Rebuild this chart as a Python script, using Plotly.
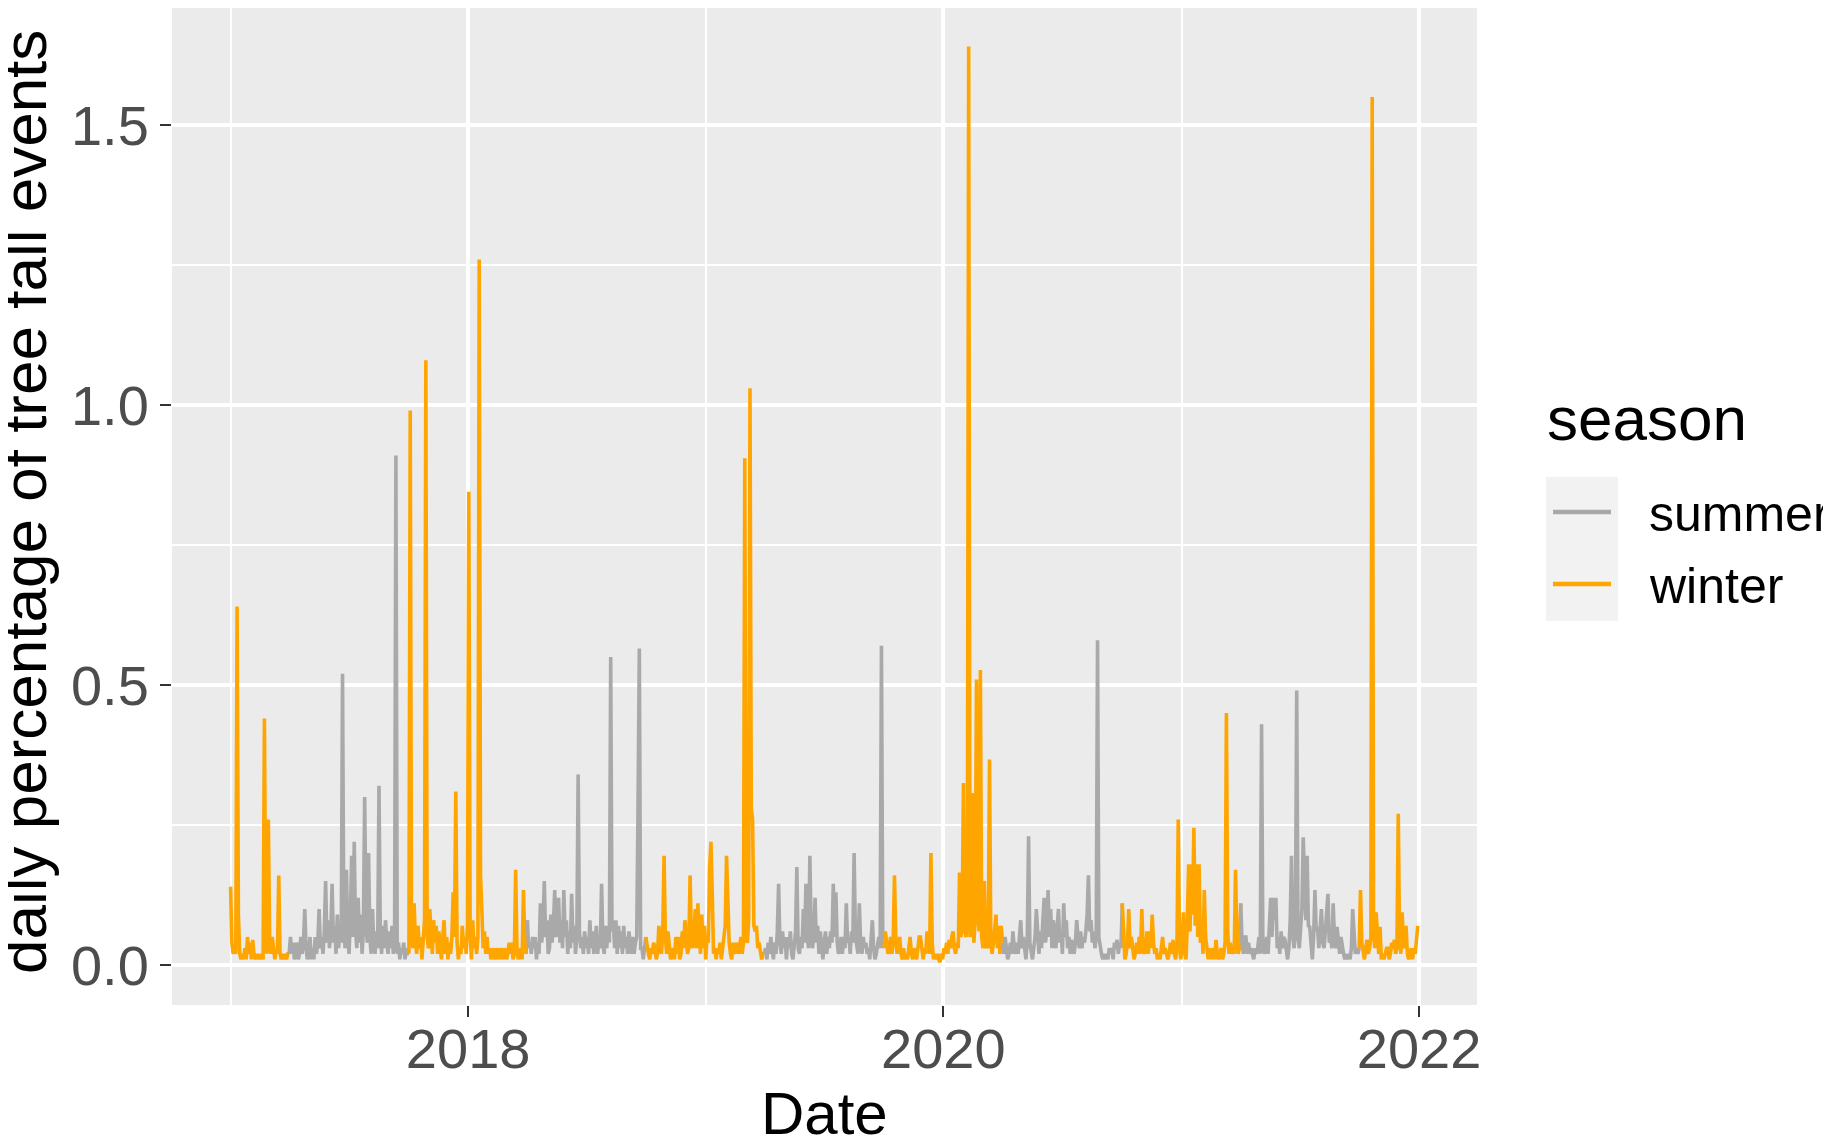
import pandas as pd
import plotly.graph_objects as go

# ---- data: daily share of tree fall events, read every second day ----
# each season block: first sample date, then values every 2 days
W2017A_START = "2017-01-01"
W2017A = [0.14,0.04,0.02,0.03,0.02,0.64,0.09,0.02,0.01,0.02,
          0.01,0.03,0.01,0.05,0.02,0.04,0.01,0.045,0.02,0.01,
          0.02,0.01,0.02,0.01,0.02,0.01,0.44,0.04,0.02,0.26,
          0.05,0.02,0.05,0.02,0.01,0.03,0.02,0.16,0.02,0.01,
          0.02,0.01,0.02,0.01,0.02]

S2017_START = "2017-04-01"
S2017 = [0.02,0.05,0.02,0.04,0.01,0.03,0.04,0.01,0.02,0.05,
         0.02,0.04,0.10,0.03,0.01,0.02,0.05,0.01,0.03,0.01,
         0.05,0.02,0.04,0.10,0.03,0.05,0.02,0.06,0.15,0.04,
         0.08,0.03,0.06,0.145,0.04,0.07,0.02,0.09,0.03,0.06,
         0.04,0.52,0.06,0.03,0.17,0.05,0.02,0.08,0.195,0.05,
         0.22,0.06,0.03,0.12,0.04,0.09,0.02,0.06,0.30,0.08,
         0.04,0.20,0.05,0.02,0.10,0.04,0.02,0.06,0.03,0.32,
         0.06,0.02,0.07,0.03,0.08,0.04,0.02,0.06,0.03,0.07,
         0.02,0.05,0.91,0.02,0.04,0.01,0.03,0.02,0.04,0.01,
         0.03,0.02]

W2017B_START = "2017-10-02"
W2017B = [0.02,0.99,0.06,0.03,0.11,0.04,0.02,0.07,0.03,0.05,
          0.01,0.04,0.08,1.08,0.05,0.03,0.10,0.06,0.02,0.08,
          0.04,0.07,0.02,0.06,0.03,0.01,0.05,0.08,0.02,0.05,
          0.01,0.04,0.02,0.05,0.13,0.05,0.31,0.04,0.01,0.03,
          0.02,0.07,0.03,0.05,0.02,0.07,0.845,0.06,0.01,0.08,
          0.03,0.05,0.02,0.05,1.26,0.16,0.10,0.03,0.06,0.02,
          0.05,0.02,0.03,0.01,0.02,0.03,0.01,0.02,0.03,0.01,
          0.02,0.03,0.01,0.02,0.03,0.01,0.02,0.04,0.02,0.04,
          0.01,0.02,0.17,0.03,0.01,0.02,0.03,0.01,0.134,0.04,
          0.02]

S2018_START = "2018-04-02"
S2018 = [0.08,0.03,0.04,0.02,0.05,0.03,0.05,0.01,0.04,0.02,
         0.11,0.04,0.07,0.15,0.05,0.08,0.02,0.03,0.09,0.04,
         0.07,0.134,0.05,0.09,0.12,0.04,0.08,0.03,0.134,0.05,
         0.08,0.02,0.06,0.03,0.127,0.04,0.07,0.02,0.05,0.34,
         0.06,0.03,0.05,0.02,0.06,0.03,0.05,0.02,0.08,0.03,
         0.06,0.02,0.04,0.07,0.02,0.05,0.03,0.145,0.04,0.02,
         0.07,0.03,0.07,0.04,0.55,0.06,0.08,0.03,0.08,0.02,
         0.07,0.03,0.06,0.02,0.07,0.03,0.05,0.02,0.06,0.03,
         0.02,0.05,0.02,0.04,0.05,0.28,0.565,0.03,0.03,0.01,
         0.03]

W2018_START = "2018-10-01"
W2018 = [0.05,0.03,0.02,0.01,0.03,0.02,0.04,0.03,0.01,0.02,
         0.07,0.04,0.02,0.06,0.195,0.05,0.02,0.06,0.03,0.01,
         0.02,0.03,0.01,0.05,0.02,0.05,0.01,0.02,0.06,0.03,
         0.08,0.04,0.02,0.03,0.16,0.04,0.03,0.06,0.10,0.03,
         0.11,0.05,0.02,0.09,0.03,0.07,0.01,0.05,0.04,0.17,
         0.22,0.13,0.02,0.03,0.01,0.03,0.02,0.04,0.01,0.03,
         0.05,0.07,0.195,0.11,0.04,0.02,0.01,0.04,0.02,0.03,
         0.04,0.02,0.03,0.05,0.02,0.04,0.905,0.05,0.04,0.08,
         1.03,0.28,0.26,0.07,0.06,0.07,0.03,0.04,0.02,0.01,
         0.02]

S2019_START = "2019-04-01"
S2019 = [0.02,0.03,0.01,0.04,0.02,0.05,0.03,0.01,0.04,0.02,
         0.06,0.145,0.04,0.02,0.06,0.03,0.05,0.01,0.05,0.03,
         0.06,0.02,0.01,0.04,0.06,0.175,0.03,0.02,0.05,0.03,
         0.10,0.04,0.145,0.05,0.03,0.195,0.06,0.03,0.05,0.12,
         0.04,0.07,0.02,0.06,0.03,0.01,0.04,0.06,0.02,0.05,
         0.03,0.06,0.04,0.145,0.05,0.13,0.04,0.02,0.03,0.05,
         0.02,0.05,0.03,0.11,0.04,0.05,0.02,0.06,0.04,0.20,
         0.05,0.03,0.02,0.11,0.04,0.02,0.05,0.03,0.04,0.02,
         0.03,0.01,0.04,0.08,0.03,0.01,0.02,0.04,0.05,0.03,
         0.57,0.04]

W2019_START = "2019-10-02"
W2019 = [0.03,0.06,0.04,0.02,0.03,0.05,0.02,0.04,0.16,0.05,
         0.02,0.04,0.05,0.02,0.01,0.03,0.01,0.02,0.01,0.03,
         0.05,0.02,0.01,0.03,0.02,0.01,0.03,0.05,0.05,0.02,
         0.01,0.03,0.02,0.06,0.04,0.02,0.20,0.04,0.01,0.02,
         0.01,0.02,0.01,0.005,0.02,0.01,0.03,0.02,0.04,0.02,
         0.045,0.03,0.05,0.06,0.03,0.02,0.04,
         0.03,0.165,0.05,0.07,0.325,0.06,0.05,0.10,1.64,0.05,
         0.07,0.307,0.04,0.08,0.51,0.10,0.06,0.527,0.05,0.03,
         0.15,0.03,0.04,0.03,0.367,0.05,0.02,0.04,0.06,0.09,
         0.03,0.07,0.02,0.07]

S2020_START = "2020-04-01"
S2020 = [0.04,0.02,0.05,0.03,0.01,0.02,0.04,0.02,0.06,0.03,
         0.02,0.04,0.02,0.05,0.08,0.03,0.05,0.03,0.01,0.04,
         0.23,0.04,0.02,0.01,0.03,0.05,0.10,0.04,0.02,0.06,
         0.03,0.08,0.12,0.04,0.06,0.134,0.05,0.10,0.03,0.08,
         0.05,0.03,0.07,0.10,0.04,0.06,0.02,0.11,0.05,0.08,
         0.03,0.05,0.02,0.045,0.03,0.02,0.04,0.08,0.05,0.03,
         0.06,0.03,0.05,0.04,0.06,0.09,0.16,0.06,0.08,0.04,
         0.06,0.03,0.05,0.58,0.05,0.03,0.02,0.01,0.02,0.01,
         0.02,0.01,0.03,0.02,0.03,0.01,0.04,0.03,0.045,0.02,
         0.04,0.03]

W2020_START = "2020-10-02"
W2020 = [0.11,0.04,0.01,0.02,0.04,0.10,0.03,0.05,0.02,0.01,
         0.02,0.04,0.02,0.05,0.02,0.10,0.03,0.02,0.03,0.06,
         0.02,0.06,0.03,0.09,0.04,0.02,0.03,0.01,0.02,0.01,
         0.03,0.05,0.02,0.03,0.02,0.01,0.02,0.04,0.02,0.045,
         0.02,0.01,0.03,0.26,0.03,0.01,0.04,0.094,0.02,0.01,
         0.08,0.18,0.06,0.18,0.09,0.245,0.07,0.18,0.05,0.18,
         0.04,0.08,0.02,0.134,0.05,0.02,0.01,0.03,0.01,0.02,
         0.03,0.01,0.045,0.02,0.01,0.02,0.03,0.01,0.02,0.04,
         0.45,0.06,0.02,0.04,0.02,0.03,0.02,0.17,0.05,0.02,
         0.03]

S2021_START = "2021-04-02"
S2021 = [0.11,0.04,0.02,0.05,0.05,0.02,0.04,0.02,0.03,0.02,
         0.01,0.03,0.02,0.03,0.05,0.02,0.43,0.04,0.02,0.03,
         0.05,0.02,0.06,0.12,0.05,0.12,0.08,0.12,0.03,0.05,
         0.02,0.06,0.03,0.05,0.045,0.02,0.01,0.03,0.08,0.195,
         0.05,0.03,0.06,0.49,0.05,0.03,0.07,0.10,0.228,0.12,
         0.08,0.195,0.07,0.068,0.03,0.01,0.05,0.134,0.06,0.068,
         0.03,0.06,0.10,0.04,0.03,0.06,0.09,0.127,0.04,0.05,
         0.03,0.11,0.05,0.03,0.068,0.04,0.02,0.05,0.03,0.02,
         0.01,0.02,0.01,0.02,0.01,0.03,0.10,0.04,0.02,0.03,
         0.02]

W2021_START = "2021-10-01"
W2021 = [0.03,0.134,0.04,0.02,0.01,0.03,0.045,0.02,0.03,0.05,
         1.55,0.06,0.03,0.094,0.04,0.02,0.068,0.01,0.02,0.01,
         0.02,0.03,0.03,0.01,0.02,0.04,0.03,0.045,0.02,0.03,
         0.27,0.05,0.02,0.094,0.04,0.03,0.07,0.02,0.01,0.02,
         0.03,0.01,0.03,0.02,0.04,0.07]

BLOCKS = [
    ("winter", W2017A_START, W2017A), ("summer", S2017_START, S2017),
    ("winter", W2017B_START, W2017B), ("summer", S2018_START, S2018),
    ("winter", W2018_START, W2018), ("summer", S2019_START, S2019),
    ("winter", W2019_START, W2019), ("summer", S2020_START, S2020),
    ("winter", W2020_START, W2020), ("summer", S2021_START, S2021),
    ("winter", W2021_START, W2021),
]

SEASONS = ["summer", "winter"]
COLORS = {"summer": "#A9A9A9", "winter": "#FFA500"}

X_TICKS = ["2018-01-01", "2020-01-01", "2022-01-01"]
X_TICKTEXT = ["2018", "2020", "2022"]
X_MINOR = ["2017-01-01", "2019-01-01", "2021-01-01"]
Y_TICKS = [0, 0.5, 1.0, 1.5]
Y_TICKTEXT = ["0.0", "0.5", "1.0", "1.5"]
Y_MINOR = [0.25, 0.75, 1.25]

FONT = "Liberation Sans, Arial, Helvetica, sans-serif"

# ---- build series ----
series = []
for season, start, vals in BLOCKS:
    d = pd.date_range(start, periods=len(vals), freq="2D")
    series.append((season, list(d), list(vals)))

fig = go.Figure()
for i, (season, d, v) in enumerate(series):
    xs, ys = list(d), list(v)
    if i + 1 < len(series):  # segment colored by its starting point
        xs.append(series[i + 1][1][0])
        ys.append(series[i + 1][2][0])
    fig.add_trace(go.Scatter(
        x=xs, y=ys, mode="lines", name=season, legendgroup=season,
        showlegend=False, line=dict(color=COLORS[season], width=3.6),
        hoverinfo="skip"))

# page is drawn with an 8px body margin, so figure coords = page - 8
OFF = 8
W, H = 1831 - OFF, 1141 - OFF
L, R, T, B = 172 - OFF, 1477 - OFF, 0, 1005 - OFF

def px(x):
    return (x - OFF - L) / (R - L)

def py(y):
    return (B - (y - OFF)) / (B - T)

grid_major = 3.6
grid_minor = 1.8

fig.update_layout(
    width=W, height=H,
    margin=dict(l=L, r=W - R, t=T, b=H - B, pad=0),
    paper_bgcolor="white", plot_bgcolor="#EBEBEB",
    font=dict(family=FONT, color="black"),
    showlegend=False,
    xaxis=dict(
        type="date", range=["2016-10-03", "2022-03-31"],
        tickvals=X_TICKS, ticktext=X_TICKTEXT,
        showgrid=True, gridcolor="white", gridwidth=grid_major,
        minor=dict(tickvals=X_MINOR, showgrid=True, gridcolor="white",
                   gridwidth=grid_minor, ticks=""),
        ticks="outside", ticklen=11, tickwidth=2.2, tickcolor="#333333",
        ticklabelstandoff=-16,
        tickfont=dict(size=56, color="#4D4D4D", family=FONT),
        zeroline=False, showline=False),
    yaxis=dict(
        range=[-0.0714, 1.7089],
        tickvals=Y_TICKS, ticktext=Y_TICKTEXT,
        showgrid=True, gridcolor="white", gridwidth=grid_major,
        minor=dict(tickvals=Y_MINOR, showgrid=True, gridcolor="white",
                   gridwidth=grid_minor, ticks=""),
        ticks="outside", ticklen=11, tickwidth=2.2, tickcolor="#333333",
        tickfont=dict(size=56, color="#4D4D4D", family=FONT),
        zeroline=False, showline=False),
)

ann = []
# axis titles (positions given in page pixels)
ann.append(dict(text="Date", x=0.5, y=py(1113), xref="paper", yref="paper",
                xanchor="center", yanchor="middle", showarrow=False,
                font=dict(size=60, color="black", family=FONT)))
ann.append(dict(text="daily percentage of tree fall events", x=px(24), y=py(502),
                xref="paper", yref="paper", xanchor="center", yanchor="middle",
                textangle=-90, showarrow=False,
                font=dict(size=62, color="black", family=FONT)))
# legend
ann.append(dict(text="season", x=px(1545), y=py(418), xref="paper", yref="paper",
                xanchor="left", yanchor="middle", showarrow=False,
                font=dict(size=62, color="black", family=FONT)))
shapes = [dict(type="rect", xref="paper", yref="paper",
               x0=px(1546), x1=px(1618), y0=py(621), y1=py(477),
               fillcolor="#F2F2F2", line=dict(width=0), layer="below")]
for season, ly in zip(SEASONS, [512, 584]):
    shapes.append(dict(type="line", xref="paper", yref="paper",
                       x0=px(1553), x1=px(1611), y0=py(ly), y1=py(ly),
                       line=dict(color=COLORS[season], width=4.5)))
    ann.append(dict(text=season, x=px(1647), y=py(ly + 2), xref="paper", yref="paper",
                    xanchor="left", yanchor="middle", showarrow=False,
                    font=dict(size=50, color="black", family=FONT)))

fig.update_layout(annotations=ann, shapes=shapes)

fig.write_html("out.html")
